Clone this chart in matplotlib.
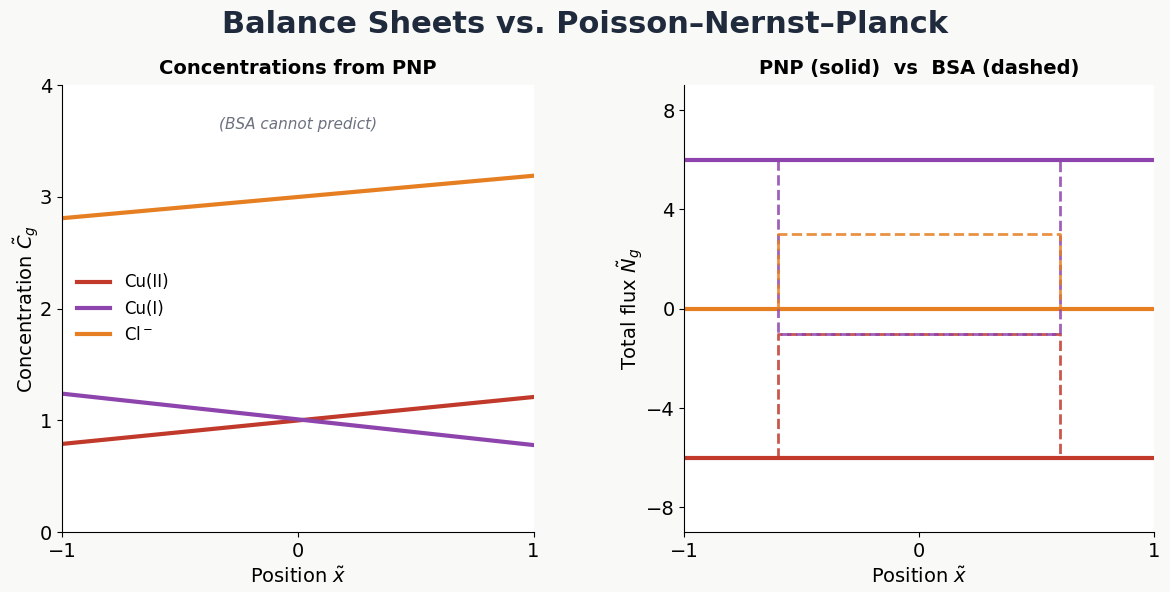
import numpy as np
import matplotlib.pyplot as plt

# PNP concentrations (linear profiles), read at x = -1 and x = 1
x_ends = np.array([-1.0, 1.0])
c_cu2 = np.array([0.79, 1.21])
c_cu1 = np.array([1.24, 0.78])
c_cl = np.array([2.81, 3.19])

# fluxes: PNP constant, BSA inside / outside of membrane box
flux_pnp = {'Cu(II)': -6, 'Cu(I)': 6, 'Cl$^-$': 0}
flux_bsa_in = {'Cu(II)': -1, 'Cu(I)': -1, 'Cl$^-$': 3}
box_left, box_right = -0.6, 0.6

names = ['Cu(II)', 'Cu(I)', 'Cl$^-$']
colors = ['#c0392b', '#8e44ad', '#e67e22']

plt.rcParams['font.family'] = ['DejaVu Sans']
fig = plt.figure(figsize=(11.7, 5.92), dpi=100, facecolor='#f9f9f7')
ax1 = fig.add_axes([0.053, 0.101, 0.403, 0.755])
ax2 = fig.add_axes([0.585, 0.101, 0.401, 0.755])

for c, name, col in zip([c_cu2, c_cu1, c_cl], names, colors):
    ax1.plot(x_ends, c, color=col, lw=3, label=name)
ax1.set_xlim(-1, 1)
ax1.set_ylim(0, 4)
ax1.set_xticks([-1, 0, 1])
ax1.set_yticks([0, 1, 2, 3, 4])
ax1.set_xlabel(r'Position $\tilde{x}$', fontsize=14)
ax1.set_ylabel(r'Concentration $\tilde{C}_g$', fontsize=14, labelpad=-1)
ax1.set_title('Concentrations from PNP', fontsize=14, fontweight='bold', pad=8)
ax1.text(0, 3.65, '(BSA cannot predict)', ha='center', va='center',
         fontsize=11, style='italic', color='#6b7280')
ax1.legend(loc='center left', bbox_to_anchor=(0.0, 0.50), frameon=False, fontsize=12)

for name, col in zip(names, colors):
    ax2.plot(x_ends, [flux_pnp[name]] * 2, color=col, lw=3)
for name, col in zip(names, colors):
    out = flux_pnp[name]
    inn = flux_bsa_in[name]
    ax2.plot([box_left, box_left, box_right, box_right], [out, inn, inn, out],
             color=col, lw=2, ls='--', alpha=0.85)
ax2.set_xlim(-1, 1)
ax2.set_ylim(-9, 9)
ax2.set_xticks([-1, 0, 1])
ax2.set_yticks([-8, -4, 0, 4, 8])
ax2.set_xlabel(r'Position $\tilde{x}$', fontsize=14)
ax2.set_ylabel(r'Total flux $\tilde{N}_g$', fontsize=14, labelpad=1)
ax2.set_title('PNP (solid)  vs  BSA (dashed)', fontsize=14, fontweight='bold', pad=8)

for ax in (ax1, ax2):
    ax.set_facecolor('white')
    ax.spines['top'].set_visible(False)
    ax.spines['right'].set_visible(False)
    ax.tick_params(labelsize=14)

fig.suptitle('Balance Sheets vs. Poisson–Nernst–Planck', fontsize=22,
             fontweight='bold', color='#1f2a3c', y=0.983)

fig.savefig('out.png', dpi=100, facecolor=fig.get_facecolor())
